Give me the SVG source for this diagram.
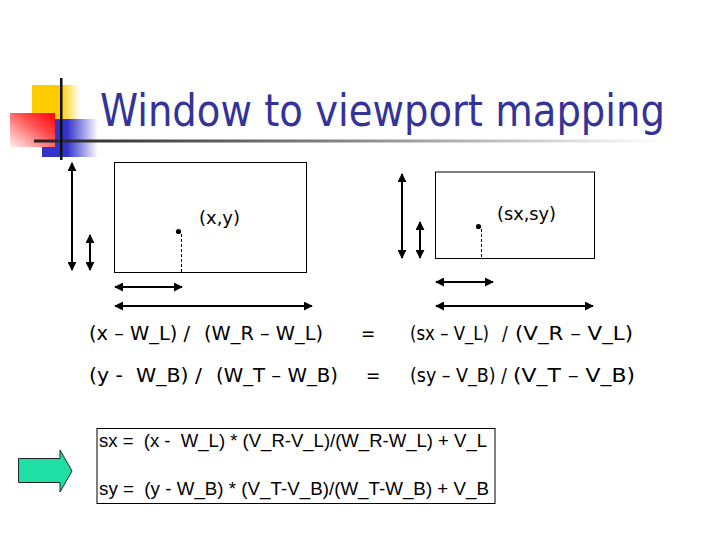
<svg xmlns="http://www.w3.org/2000/svg" width="720" height="540" viewBox="0 0 720 540">
<defs>
<style>
.t{font-family:"DejaVu Sans Condensed","DejaVu Sans",sans-serif;fill:#000}
.eq{font-size:19px}
.f{font-family:"Liberation Sans",Arial,sans-serif;font-size:18px;fill:#000}
.box{fill:none;stroke:#000;stroke-width:1}
.dbl{stroke:#000;stroke-width:2;marker-start:url(#ah);marker-end:url(#ah)}
.dash{stroke:#000;stroke-width:1;stroke-dasharray:3 2}
</style>
<marker id="ah" viewBox="0 0 10 10" refX="9" refY="5" markerWidth="4.5" markerHeight="4.5" orient="auto-start-reverse" markerUnits="strokeWidth">
<path d="M0,0 L10,5 L0,10 z" fill="#000"/>
</marker>
<linearGradient id="gy" x1="0" x2="1" y1="0" y2="0">
<stop offset="0" stop-color="#FFCC00"/><stop offset="0.6" stop-color="#FFCC00"/><stop offset="1" stop-color="#FFCC00" stop-opacity="0"/>
</linearGradient>
<linearGradient id="gr" x1="0" x2="1" y1="1" y2="0">
<stop offset="0" stop-color="#FFF0F0"/><stop offset="0.6" stop-color="#FF5050"/><stop offset="1" stop-color="#FF0000"/>
</linearGradient>
<linearGradient id="gb" x1="0" x2="1" y1="0" y2="0">
<stop offset="0" stop-color="#3333CC"/><stop offset="0.45" stop-color="#3333CC"/><stop offset="1" stop-color="#3333CC" stop-opacity="0"/>
</linearGradient>
<linearGradient id="gl" x1="0" x2="1" y1="0" y2="0">
<stop offset="0" stop-color="#222"/><stop offset="0.5" stop-color="#888"/><stop offset="0.85" stop-color="#ddd"/><stop offset="1" stop-color="#fff"/>
</linearGradient>
</defs>
<rect width="720" height="540" fill="#fff"/>
<g id="logo">
<rect x="32" y="85" width="48" height="36" fill="url(#gy)"/>
<rect x="42" y="119" width="56" height="38" fill="url(#gb)"/>
<rect x="10" y="113" width="45" height="34" fill="url(#gr)"/>
<rect x="34" y="139.5" width="632" height="3" fill="url(#gl)"/>
<rect x="60" y="78" width="2.5" height="82" fill="#111"/>
</g>
<g id="title">
<text x="100" y="126" font-family="'DejaVu Sans Condensed','DejaVu Sans',sans-serif" font-size="44" fill="#333399" textLength="565" lengthAdjust="spacingAndGlyphs">Window to viewport mapping</text>
</g>
<g id="window">
<rect class="box" x="114.5" y="162.5" width="192" height="110"/>
<circle cx="178.5" cy="231.5" r="2.6" fill="#000"/>
<text class="t" x="199" y="224" font-size="18" textLength="41" lengthAdjust="spacingAndGlyphs">(x,y)</text>
</g>
<g id="viewport">
<rect class="box" x="435.5" y="172" width="159" height="86.5"/>
<circle cx="478.5" cy="226.5" r="2.6" fill="#000"/>
<text class="t" x="497" y="220" font-size="18" textLength="59" lengthAdjust="spacingAndGlyphs">(sx,sy)</text>
</g>
<g id="connectors">
<line class="dash" x1="181.5" y1="234" x2="181.5" y2="272"/>
<line class="dash" x1="481.5" y1="229" x2="481.5" y2="258"/>
<line class="dbl" x1="72" y1="163" x2="72" y2="270"/>
<line class="dbl" x1="90" y1="235" x2="90" y2="270"/>
<line class="dbl" x1="115" y1="287" x2="182" y2="287"/>
<line class="dbl" x1="115" y1="306" x2="312" y2="306"/>
<line class="dbl" x1="402" y1="174" x2="402" y2="258"/>
<line class="dbl" x1="420" y1="222" x2="420" y2="258"/>
<line class="dbl" x1="436" y1="282" x2="493" y2="282"/>
<line class="dbl" x1="436" y1="306" x2="593" y2="306"/>
</g>
<g id="ratios" class="t eq">
<text x="89" y="340" textLength="101" lengthAdjust="spacingAndGlyphs">(x – W_L) /</text>
<text x="204" y="340" textLength="119" lengthAdjust="spacingAndGlyphs">(W_R – W_L)</text>
<text x="361" y="340">=</text>
<text x="410" y="340" textLength="79" lengthAdjust="spacingAndGlyphs">(sx – V_L)</text>
<text x="502" y="340">/</text>
<text x="515" y="340" textLength="118" lengthAdjust="spacingAndGlyphs">(V_R – V_L)</text>
<text x="89" y="382" textLength="113" lengthAdjust="spacingAndGlyphs" xml:space="preserve">(y -  W_B) /</text>
<text x="216" y="382" textLength="122" lengthAdjust="spacingAndGlyphs">(W_T – W_B)</text>
<text x="366" y="382">=</text>
<text x="410" y="382" textLength="97" lengthAdjust="spacingAndGlyphs">(sy – V_B) /</text>
<text x="513" y="382" textLength="122" lengthAdjust="spacingAndGlyphs">(V_T – V_B)</text>
</g>
<g id="arrow">
<path d="M18.5,458.5 H60 V450 L72,471 L60,492 V482.5 H18.5 Z" fill="#1FE0A4" stroke="#222" stroke-width="1"/>
</g>
<g id="result">
<rect class="box" x="97" y="428.5" width="398" height="75"/>
<text class="f" x="99" y="447" textLength="388" lengthAdjust="spacingAndGlyphs" xml:space="preserve">sx =  (x -  W_L) * (V_R-V_L)/(W_R-W_L) + V_L</text>
<text class="f" x="99" y="495" textLength="390" lengthAdjust="spacingAndGlyphs" xml:space="preserve">sy =  (y - W_B) * (V_T-V_B)/(W_T-W_B) + V_B</text>
</g>
</svg>
